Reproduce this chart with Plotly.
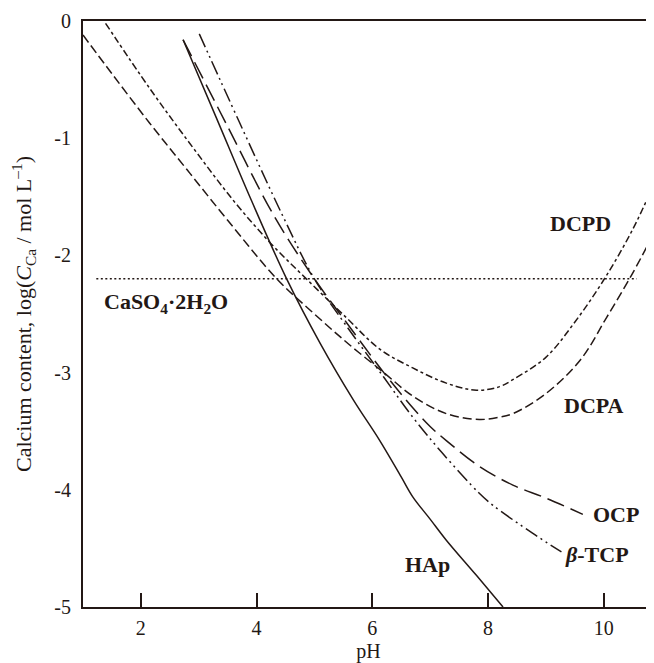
import plotly.graph_objects as go

# solubility isotherms (pH vs log C_Ca)
hap_ph = [2.73, 3.3, 3.91, 4.52, 5.1, 5.67, 6.13, 6.5, 6.7, 7.0, 7.28, 7.8, 8.26]
hap_log = [-0.16, -0.82, -1.53, -2.2, -2.75, -3.23, -3.58, -3.89, -4.06, -4.25, -4.43, -4.73, -5.0]

ocp_ph = [2.73, 3.5, 4.31, 5.0, 5.55, 6.2, 6.7, 7.0, 7.28, 7.85, 8.43, 9.0, 9.64]
ocp_log = [-0.16, -0.9, -1.67, -2.2, -2.57, -3.0, -3.3, -3.46, -3.58, -3.8, -3.96, -4.07, -4.21]

tcp_ph = [3.01, 3.7, 4.46, 5.0, 5.55, 6.2, 6.7, 7.2, 7.85, 8.08, 8.77, 9.27]
tcp_log = [-0.11, -0.86, -1.67, -2.2, -2.6, -3.04, -3.38, -3.68, -4.03, -4.13, -4.37, -4.53]

dcpd_ph = [1.39, 2.16, 2.9, 3.63, 4.25, 4.86, 5.55, 6.13, 6.7, 7.28, 7.8, 8.2, 8.43, 9.0, 9.5, 10.0, 10.5, 10.87]
dcpd_log = [-0.02, -0.58, -1.08, -1.55, -1.9, -2.2, -2.53, -2.8, -2.96, -3.09, -3.15, -3.12, -3.06, -2.87, -2.57, -2.21, -1.78, -1.39]

dcpa_ph = [1.0, 1.5, 2.15, 2.8, 3.5, 4.35, 5.0, 5.6, 6.2, 6.7, 7.28, 7.85, 8.2, 8.43, 9.0, 9.6, 10.05, 10.48, 10.87]
dcpa_log = [-0.12, -0.45, -0.87, -1.27, -1.7, -2.2, -2.5, -2.76, -3.0, -3.2, -3.35, -3.4, -3.38, -3.35, -3.18, -2.89, -2.53, -2.17, -1.81]

gypsum_ph = [1.23, 10.57]
gypsum_log = [-2.2, -2.2]

x_ticks = [2, 4, 6, 8, 10]
y_ticks = [0, -1, -2, -3, -4, -5]
y_ticktext = ['0', '-1', '-2', '-3', '-4', '-5']

ink = '#231815'
serif = 'Liberation Serif, Times New Roman, serif'


def curve(x, y, dash, shape='spline'):
    return go.Scatter(x=x, y=y, mode='lines', line_shape=shape,
                      line=dict(color=ink, width=1.5, dash=dash),
                      hoverinfo='skip', showlegend=False)


def label(text, x, y, xanchor='center'):
    return dict(x=x, y=y, xref='x', yref='y', text=text, showarrow=False,
                xanchor=xanchor, yanchor='middle',
                font=dict(family=serif, size=22, color=ink))


data = [
    curve(gypsum_ph, gypsum_log, '2px,2.5px', 'linear'),
    curve(dcpa_ph, dcpa_log, '9px,4px'),
    curve(dcpd_ph, dcpd_log, '7px,3px,3px,3px'),
    curve(ocp_ph, ocp_log, '18px,7px'),
    curve(tcp_ph, tcp_log, '14px,4px,2px,4px,2px,4px'),
    curve(hap_ph, hap_log, 'solid'),
]

annotations = [
    label('<b>DCPD</b>', 9.6, -1.73),
    label('<b>DCPA</b>', 9.84, -3.28),
    label('<b>OCP</b>', 10.22, -4.21),
    label('<b><i>β</i>-TCP</b>', 9.88, -4.55),
    label('<b>HAp</b>', 6.96, -4.64),
    label('<b>CaSO<sub>4</sub>·2H<sub>2</sub>O</b>', 1.32, -2.41, 'left'),
]

# page body keeps an 8px margin, so the figure is shifted to sit inside it
fig = go.Figure(data=data)
fig.update_layout(
    width=646, height=655,
    margin=dict(l=75, r=0, t=13, b=56),
    paper_bgcolor='white', plot_bgcolor='white',
    font=dict(family=serif, size=20, color=ink),
    annotations=annotations,
)
fig.update_xaxes(
    range=[1, 10.87], tickvals=x_ticks, ticks='inside', ticklen=14,
    tickwidth=1.5, tickcolor=ink, showline=True, linewidth=2, linecolor=ink,
    mirror=True, showgrid=False, zeroline=False, ticklabelstandoff=2,
    automargin=False,
    title=dict(text='pH', standoff=11, font=dict(size=20)),
)
fig.update_yaxes(
    range=[-5, 0], tickvals=y_ticks, ticktext=y_ticktext, ticks='',
    showline=True, linewidth=2, linecolor=ink, showgrid=False,
    zeroline=False, ticklabelstandoff=6, automargin=False,
    title=dict(text='Calcium content, log(<i>C</i><sub>Ca</sub> / mol L<sup>–1</sup>)',
               standoff=21, font=dict(size=22)),
)
fig.write_html('out.html')
